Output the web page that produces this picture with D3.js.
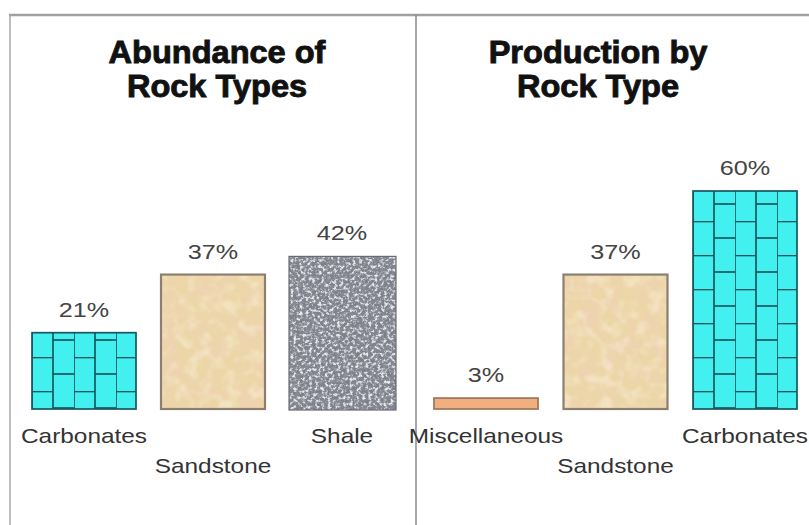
<!DOCTYPE html>
<html>
<head>
<meta charset="utf-8">
<script src="https://cdn.jsdelivr.net/npm/d3@7"></script>
<style>
  body { margin: 0; background: #fff; }
  svg { display: block; font-family: "Liberation Sans", Arial, sans-serif; }
</style>
</head>
<body>
<svg width="809" height="525"></svg>
<script>
// data
var abundanceCats = ["Carbonates", "Sandstone", "Shale"];
var abundanceVals = [21, 37, 42];
var productionCats = ["Miscellaneous", "Sandstone", "Carbonates"];
var productionVals = [3, 37, 60];
var titles = [["Abundance of", "Rock Types"], ["Production by", "Rock Type"]];

var width = 809, height = 525;
var baseY = 409;
var barW = 104;

var svg = d3.select("svg");
var defs = svg.append("defs");

// textures
function noiseFilter(id, freq, oct, seed, rgb, a, b) {
  var f = defs.append("filter").attr("id", id)
    .attr("x", 0).attr("y", 0).attr("width", 1).attr("height", 1);
  f.append("feTurbulence").attr("type", "fractalNoise")
    .attr("baseFrequency", freq).attr("numOctaves", oct).attr("seed", seed).attr("result", "n");
  f.append("feColorMatrix").attr("in", "n").attr("type", "matrix")
    .attr("values", "0 0 0 0 " + rgb[0] + " 0 0 0 0 " + rgb[1] + " 0 0 0 0 " + rgb[2] + " " + a + " 0 0 0 " + b)
    .attr("result", "c");
  f.append("feComposite").attr("in", "c").attr("in2", "SourceGraphic").attr("operator", "in");
}
noiseFilter("shaleDark", 0.3, 3, 4, [0.2, 0.21, 0.25], 4.0, -1.6);
noiseFilter("shaleLight", 0.32, 3, 11, [0.8, 0.81, 0.86], 4.0, -1.9);
noiseFilter("sandTex", 0.05, 3, 7, [0.88, 0.62, 0.5], 3.0, -1.3);
noiseFilter("sandTex2", 0.08, 2, 21, [0.98, 0.93, 0.78], 3.0, -1.35);

// brick pattern, one per bar so it lines up with the bar edge
function brick(id, x0) {
  var p = defs.append("pattern").attr("id", id)
    .attr("patternUnits", "userSpaceOnUse")
    .attr("x", x0).attr("y", baseY - 18)
    .attr("width", 42).attr("height", 34);
  p.append("rect").attr("width", 42).attr("height", 34).attr("fill", "#42f0f0");
  var ln = "#17585e";
  [[0, 0, 0, 34], [21, 0, 21, 34], [0, 0.5, 21, 0.5], [21, 17, 42, 17]].forEach(function (l) {
    p.append("line").attr("x1", l[0]).attr("y1", l[1]).attr("x2", l[2]).attr("y2", l[3])
      .attr("stroke", ln).attr("stroke-width", 1.7);
  });
}

var y = d3.scaleLinear().domain([0, 60]).range([baseY, 191]);

// frame
svg.append("line").attr("x1", 9).attr("x2", width).attr("y1", 15).attr("y2", 15)
  .attr("stroke", "#a0a0a0").attr("stroke-width", 2.5);
svg.append("line").attr("x1", 10).attr("x2", 10).attr("y1", 15).attr("y2", height)
  .attr("stroke", "#a8a8a8").attr("stroke-width", 1.5);
svg.append("line").attr("x1", 416).attr("x2", 416).attr("y1", 15).attr("y2", height)
  .attr("stroke", "#8a8a8a").attr("stroke-width", 1.5);

function addRect(g, x0, top, w, h) {
  return g.append("rect").attr("x", x0).attr("y", top).attr("width", w).attr("height", h);
}

function panel(cats, vals, range, title, tcx, pid) {
  var x = d3.scalePoint().domain(cats).range(range);
  var g = svg.append("g");

  g.selectAll(".title").data(title).enter().append("text")
    .attr("transform", function (d, i) { return "translate(" + tcx + "," + (63 + i * 34) + ") scale(1.05,1)"; })
    .attr("text-anchor", "middle").attr("font-size", 31).attr("font-weight", "bold")
    .attr("fill", "#111").attr("stroke", "#111").attr("stroke-width", 0.9)
    .text(function (d) { return d; });

  cats.forEach(function (c, i) {
    var x0 = x(c) - barW / 2, top = y(vals[i]), h = baseY - top;
    var bg = g.append("g");
    if (c === "Carbonates") {
      brick(pid + i, x0);
      addRect(bg, x0, top, barW, h)
        .attr("fill", "url(#" + pid + i + ")").attr("stroke", "#17585e").attr("stroke-width", 1.7);
    } else if (c === "Sandstone") {
      addRect(bg, x0, top, barW, h).attr("fill", "#ecd6a8");
      addRect(bg, x0, top, barW, h).attr("fill", "#fff").attr("filter", "url(#sandTex)").attr("opacity", 0.45);
      addRect(bg, x0, top, barW, h).attr("fill", "#fff").attr("filter", "url(#sandTex2)").attr("opacity", 0.4);
      addRect(bg, x0, top, barW, h).attr("fill", "none").attr("stroke", "#8a7f70").attr("stroke-width", 2.2);
    } else if (c === "Shale") {
      addRect(bg, x0 - 1, top, barW + 3, h + 1).attr("fill", "#878a93");
      addRect(bg, x0 - 1, top, barW + 3, h + 1).attr("fill", "#fff").attr("filter", "url(#shaleDark)");
      addRect(bg, x0 - 1, top, barW + 3, h + 1).attr("fill", "#fff").attr("filter", "url(#shaleLight)");
      addRect(bg, x0 - 1, top, barW + 3, h + 1).attr("fill", "none").attr("stroke", "#6a6a72").attr("stroke-width", 1.2);
    } else {
      addRect(bg, x0, top, barW, h)
        .attr("fill", "#f1ae7e").attr("stroke", "#9f7a60").attr("stroke-width", 1.8);
    }

    // value label
    g.append("text")
      .attr("transform", "translate(" + x(c) + "," + (top - 16) + ") scale(1.2,1)")
      .attr("text-anchor", "middle").attr("font-size", 21).attr("fill", "#444")
      .text(vals[i] + "%");

    // category label, middle one dropped to a second row
    g.append("text")
      .attr("transform", "translate(" + x(c) + "," + (i === 1 ? 473 : 443) + ") scale(1.22,1)")
      .attr("text-anchor", "middle").attr("font-size", 20).attr("fill", "#333")
      .text(c);
  });
}

panel(abundanceCats, abundanceVals, [84, 342], titles[0], 217, "bA");
panel(productionCats, productionVals, [486, 745], titles[1], 598, "bP");
</script>
</body>
</html>
